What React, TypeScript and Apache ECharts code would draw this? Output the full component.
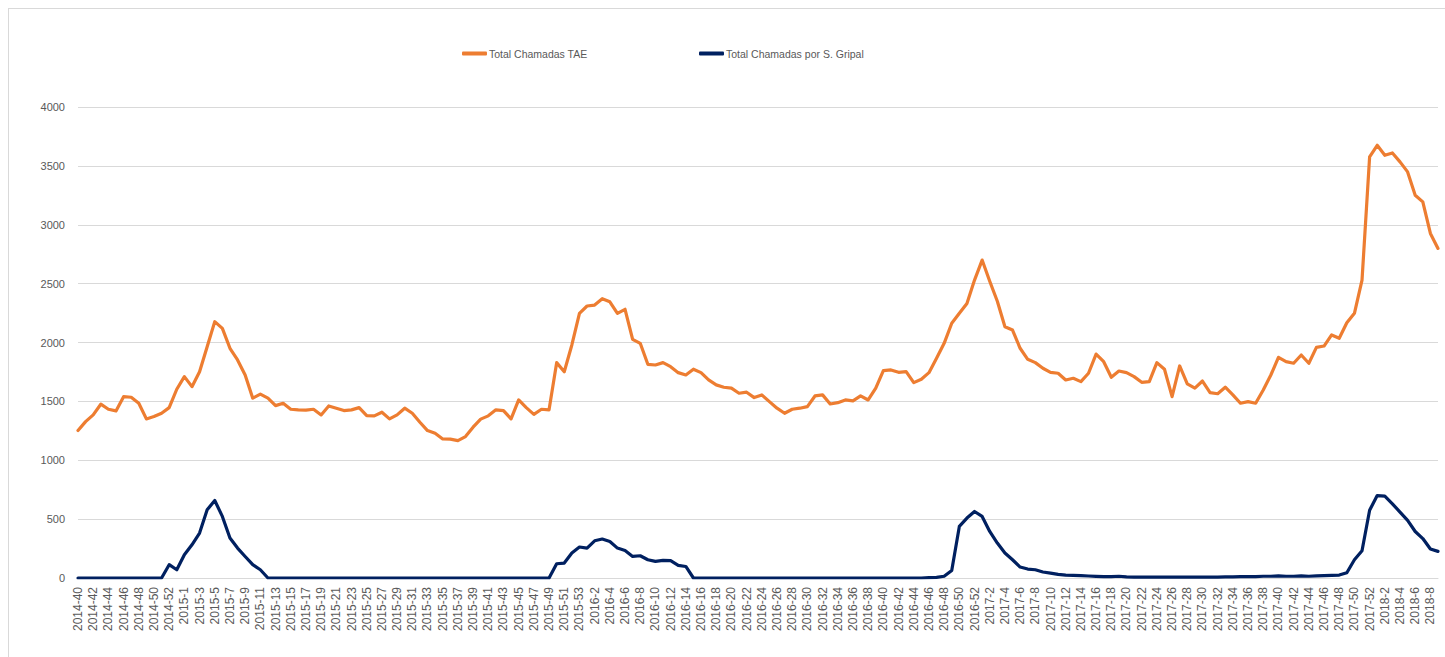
import React, { useEffect, useRef } from "react";
import * as echarts from "echarts";

// Week ranges (year, first week, last week) that make up the categories
const weekRanges: [number, number, number][] = [
  [2014, 40, 53],
  [2015, 1, 53],
  [2016, 1, 52],
  [2017, 1, 52],
  [2018, 1, 9],
];

const seriesNames = ["Total Chamadas TAE", "Total Chamadas por S. Gripal"];

const totalTAE: number[] = [
  1252, 1328, 1385, 1476, 1433, 1419, 1540, 1535, 1484, 1351, 1371, 1399, 1447, 1603, 1710, 1625, 1752, 1964, 2177, 2120, 1951, 1852, 1724, 1527, 1561, 1527, 1464, 1484, 1433, 1428,
  1425, 1433, 1385, 1461, 1442, 1422, 1428, 1447, 1379, 1377, 1408, 1351, 1385, 1442, 1399, 1323, 1252, 1230, 1181, 1179, 1167, 1201, 1281, 1349, 1377, 1428, 1422, 1351, 1512, 1447,
  1390, 1433, 1428, 1829, 1752, 1979, 2248, 2310, 2318, 2372, 2346, 2248, 2282, 2027, 1993, 1815, 1809, 1829, 1795, 1744, 1724, 1773, 1744, 1682, 1640, 1620, 1612, 1569, 1578, 1532,
  1555, 1498, 1442, 1399, 1433, 1442, 1455, 1546, 1555, 1478, 1489, 1512, 1504, 1546, 1512, 1612, 1761, 1767, 1747, 1752, 1659, 1688, 1744, 1866, 1993, 2163, 2248, 2332, 2530, 2700,
  2520, 2350, 2134, 2106, 1951, 1857, 1829, 1781, 1747, 1739, 1682, 1696, 1668, 1739, 1902, 1837, 1705, 1758, 1744, 1710, 1662, 1668, 1829, 1773, 1540, 1801, 1648, 1612, 1673, 1574,
  1565, 1620, 1555, 1484, 1498, 1484, 1597, 1724, 1874, 1837, 1824, 1894, 1824, 1959, 1970, 2064, 2036, 2168, 2248, 2530, 3576, 3675, 3590, 3610, 3534, 3449, 3251, 3194, 2926, 2799,
];

const totalGripal: number[] = [
  0, 0, 0, 0, 0, 0, 0, 0, 0, 0, 0, 0, 113, 70, 198, 282, 382, 579, 658, 523, 339, 254, 183, 113, 70, 0, 0, 0, 0, 0,
  0, 0, 0, 0, 0, 0, 0, 0, 0, 0, 0, 0, 0, 0, 0, 0, 0, 0, 0, 0, 0, 0, 0, 0, 0, 0, 0, 0, 0, 0,
  0, 0, 0, 121, 127, 212, 263, 254, 316, 331, 310, 254, 234, 183, 189, 155, 141, 149, 147, 107, 98, 0, 0, 0, 0, 0, 0, 0, 0, 0,
  0, 0, 0, 0, 0, 0, 0, 0, 0, 0, 0, 0, 0, 0, 0, 0, 0, 0, 0, 0, 0, 0, 3, 5, 15, 64, 438, 509, 565, 523,
  395, 297, 212, 155, 93, 76, 70, 51, 42, 31, 25, 22, 20, 17, 14, 11, 11, 15, 9, 8, 8, 8, 8, 8, 8, 8, 8, 8, 8, 8,
  8, 10, 10, 12, 12, 12, 15, 15, 18, 15, 15, 18, 15, 18, 20, 22, 25, 45, 155, 232, 575, 700, 695, 630, 560, 490, 395, 335, 246, 226,
];

const yTicks = { min: 0, max: 4000, interval: 500 };

function buildCategories(): string[] {
  const out: string[] = [];
  for (const [y, a, b] of weekRanges) {
    for (let w = a; w <= b; w++) out.push(`${y}-${w}`);
  }
  return out;
}

export default function App() {
  const ref = useRef<HTMLDivElement>(null);
  useEffect(() => {
    if (!ref.current) return;
    const chart = echarts.init(ref.current, undefined, { renderer: "svg" });
    const categories = buildCategories();
    const textColor = "#595959";
    const font = "'Liberation Sans', Arial, sans-serif";
    const legendText = {
      color: textColor,
      fontSize: 10.5,
      fontFamily: font,
      padding: [0, 0, 0, -3],
    };
    const legendBase = {
      top: 48,
      padding: 0,
      icon: "roundRect",
      itemWidth: 25,
      itemHeight: 4,
      textStyle: legendText,
    };
    chart.setOption({
      animation: false,
      backgroundColor: "#ffffff",
      grid: { left: 78, right: 7, top: 107, bottom: 79 },
      legend: [
        { ...legendBase, data: [seriesNames[0]], left: 462 },
        { ...legendBase, data: [seriesNames[1]], left: 699 },
      ],
      xAxis: {
        type: "category",
        data: categories,
        boundaryGap: false,
        axisLine: { show: true, lineStyle: { color: "#d9d9d9", width: 1 } },
        axisTick: { show: false },
        axisLabel: {
          interval: 1,
          rotate: 90,
          margin: 9,
          color: textColor,
          fontSize: 12,
          fontFamily: font,
        },
      },
      yAxis: {
        type: "value",
        min: yTicks.min,
        max: yTicks.max,
        interval: yTicks.interval,
        axisLine: { show: false },
        axisTick: { show: false },
        splitLine: { lineStyle: { color: "#d9d9d9", width: 1 } },
        axisLabel: {
          margin: 13,
          color: textColor,
          fontSize: 11,
          fontFamily: font,
          formatter: (v: number) => String(v),
        },
      },
      series: [
        {
          name: seriesNames[0],
          type: "line",
          data: totalTAE,
          showSymbol: false,
          color: "#ED7D31",
          lineStyle: { width: 3.2, color: "#ED7D31", cap: "round", join: "round" },
        },
        {
          name: seriesNames[1],
          type: "line",
          data: totalGripal,
          showSymbol: false,
          color: "#002060",
          lineStyle: { width: 3.2, color: "#002060", cap: "round", join: "round" },
        },
      ],
      graphic: [
        {
          type: "line",
          shape: { x1: 8, y1: 8.5, x2: 1445, y2: 8.5 },
          style: { stroke: "#d9d9d9", lineWidth: 1 },
        },
        {
          type: "line",
          shape: { x1: 8.5, y1: 8, x2: 8.5, y2: 657 },
          style: { stroke: "#d9d9d9", lineWidth: 1 },
        },
      ],
    });
    return () => chart.dispose();
  }, []);
  return (
    <div
      ref={ref}
      style={{ position: "fixed", left: 0, top: 0, width: 1445, height: 657 }}
    />
  );
}
